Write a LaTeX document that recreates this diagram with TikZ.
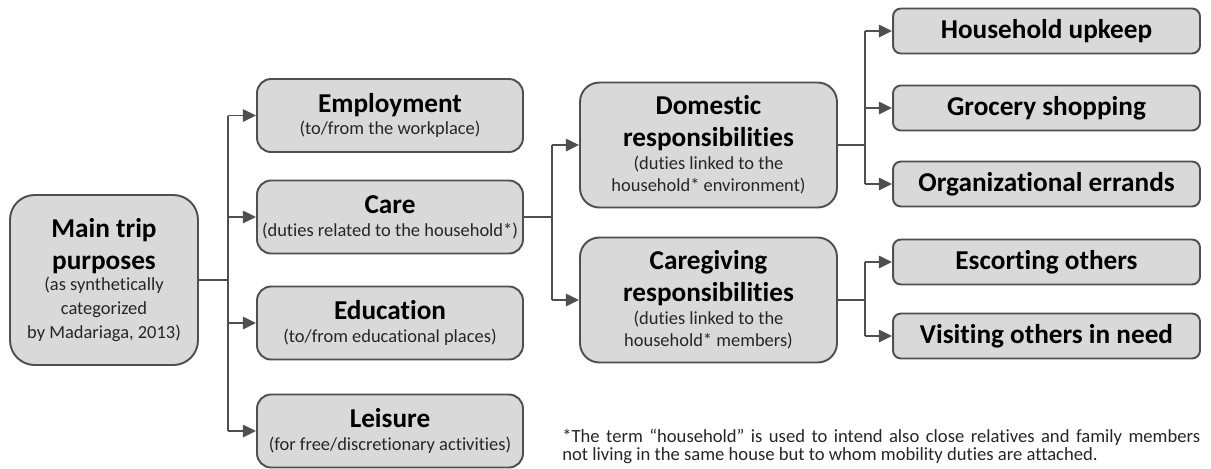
\documentclass[tikz,border=0pt]{standalone}
\usepackage{fontspec}
\setmainfont{Carlito}[Ligatures=NoCommon]
\usetikzlibrary{arrows.meta,calc}

\definecolor{boxfill}{HTML}{D9D9D9}
\definecolor{boxline}{HTML}{4F4F4F}

% note lines inside the boxes (titles use the node font)
\newcommand{\sub}[1]{{\fontsize{10.5}{12.5}\selectfont\mdseries\color{black!85} #1}}

\begin{document}
\begin{tikzpicture}[
  x=0.02cm, y=-0.02cm,
  purpose/.style={draw=boxline,fill=boxfill,line width=1.1pt,align=center,inner sep=1pt,
    font=\fontsize{15.5}{18}\selectfont\bfseries},
  mainbox/.style={purpose,minimum width=3.76cm,minimum height=3.4cm,rounded corners=14pt},
  midbox/.style={purpose,minimum width=5.32cm,minimum height=1.46cm,rounded corners=8pt},
  dutybox/.style={purpose,minimum width=5.14cm,minimum height=2.5cm,rounded corners=11pt},
  leafbox/.style={purpose,minimum width=6.14cm,minimum height=0.9cm,rounded corners=4.5pt},
  link/.style={draw=boxline,line width=1.1pt},
  arr/.style={link,-{Triangle[length=7.5pt,width=7pt]}}
]
  \useasboundingbox (0,0) rectangle (1211,468);

  \node[mainbox] (main) at (104,280)
    {Main trip\\purposes\\[-6pt]\sub{(as synthetically}\\[-4.5pt]\sub{categorized}\\[-4.5pt]\sub{by Madariaga, 2013)}};

  \node[midbox] (emp)  at (390,115.5) {Employment\\[-5pt]\sub{(to/from the workplace)}};
  \node[midbox] (care) at (390,217)   {Care\\[-5pt]\sub{(duties related to the household*)}};
  \node[midbox] (edu)  at (390,323)   {Education\\[-5pt]\sub{(to/from educational places)}};
  \node[midbox] (leis) at (390,431)   {Leisure\\[-5pt]\sub{(for free/discretionary activities)}};

  \node[dutybox] (dom) at (708.5,145)
    {Domestic\\responsibilities\\[-4.5pt]\sub{(duties linked to the}\\[-5.5pt]\sub{household* environment)}};
  \node[dutybox] (cg) at (708.5,300)
    {Caregiving\\responsibilities\\[-4.5pt]\sub{(duties linked to the}\\[-5.5pt]\sub{household* members)}};

  \node[leafbox] (upk)  at (1046.5,31)  {Household upkeep};
  \node[leafbox] (groc) at (1046.5,108) {Grocery shopping};
  \node[leafbox] (err)  at (1046.5,184) {Organizational errands};
  \node[leafbox] (esc)  at (1046.5,262) {Escorting others};
  \node[leafbox] (vis)  at (1046.5,336) {Visiting others in need};

  % branch points
  \coordinate (j1) at (228,280);
  \coordinate (j2) at (552,217);
  \coordinate (j3) at (865,145);
  \coordinate (j4) at (865,300);

  \draw[link] (main.east) -- (j1);
  \draw[link] (j1 |- emp.west) -- (j1 |- leis.west);
  \foreach \n in {emp,care,edu,leis}
    \draw[arr] (j1 |- \n.west) -- (\n.west);

  \draw[link] (care.east) -- (j2);
  \draw[link] (j2 |- dom.west) -- (j2 |- cg.west);
  \foreach \n in {dom,cg}
    \draw[arr] (j2 |- \n.west) -- (\n.west);

  \draw[link] (dom.east) -- (j3);
  \draw[link] (j3 |- upk.west) -- (j3 |- err.west);
  \foreach \n in {upk,groc,err}
    \draw[arr] (j3 |- \n.west) -- (\n.west);

  \draw[link] (cg.east) -- (j4);
  \draw[link] (j4 |- esc.west) -- (j4 |- vis.west);
  \foreach \n in {esc,vis}
    \draw[arr] (j4 |- \n.west) -- (\n.west);

  \node[anchor=north west,text width=12.76cm,align=justify,inner sep=0pt,
        font=\fontsize{10.6}{10.6}\selectfont,text=black!85] (note) at (562,428.5)
    {*The term “household” is used to intend also close relatives and family members\linebreak
     not living in the same house but to whom mobility duties are attached.};
\end{tikzpicture}
\end{document}
